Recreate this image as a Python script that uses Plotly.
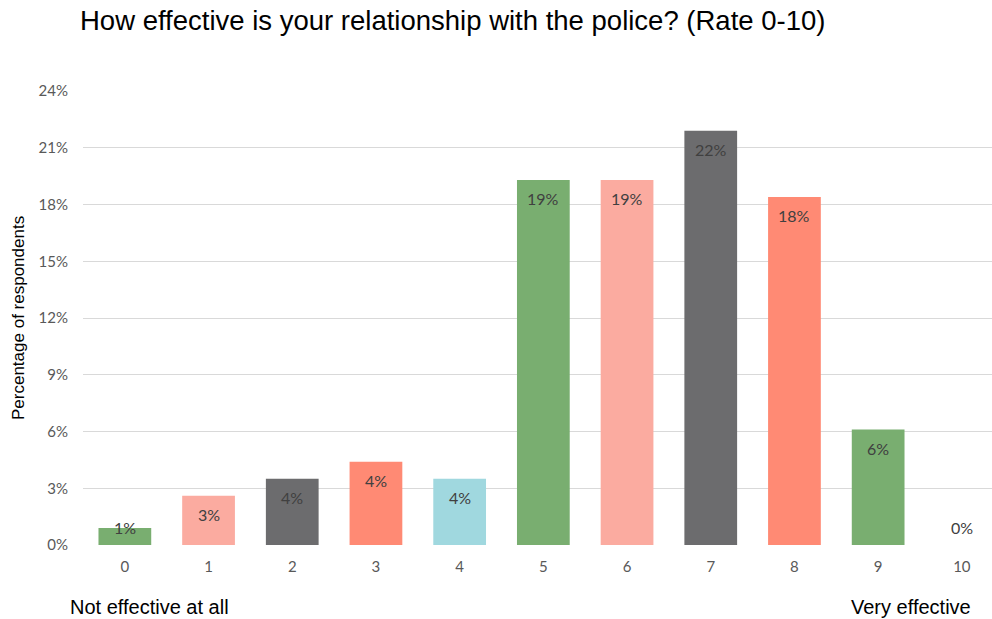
import plotly.graph_objects as go

categories = ["0", "1", "2", "3", "4", "5", "6", "7", "8", "9", "10"]
values = [0.9, 2.6, 3.5, 4.4, 3.5, 19.3, 19.3, 21.9, 18.4, 6.1, 0.0]
labels = ["1%", "3%", "4%", "4%", "4%", "19%", "19%", "22%", "18%", "6%", "0%"]
colors = ["#79ae70", "#fbaba0", "#6c6c6e", "#ff8a74", "#a0d8df",
          "#79ae70", "#fbaba0", "#6c6c6e", "#ff8a74", "#79ae70", "#fbaba0"]
y_ticks = [0, 3, 6, 9, 12, 15, 18, 21, 24]
y_tick_text = [f"{t}%" for t in y_ticks]

W, H = 992, 619
ML, MR, MT, MB = 83, 0, 91, 74
plot_h = H - MT - MB
px_per_unit = plot_h / 24.0

fig = go.Figure()
fig.add_trace(go.Bar(
    x=list(range(len(categories))), y=values,
    marker=dict(color=colors, line=dict(width=0)),
    width=0.63, hoverinfo="skip",
))

annotations = []
for i, (v, lab) in enumerate(zip(values, labels)):
    vpx = v * px_per_unit
    shift = -min(19, vpx - 18)
    annotations.append(dict(
        x=i, y=v, xref="x", yref="y", text=lab, showarrow=False,
        yshift=shift, font=dict(family="Lato", size=16, color="#404040"),
    ))

annotations += [
    dict(text="How effective is your relationship with the police? (Rate 0-10)",
         xref="paper", yref="paper", x=-0.006, y=1, yshift=71, xanchor="left", yanchor="middle",
         showarrow=False, font=dict(family="Liberation Sans", size=27.5, color="#000000")),
    dict(text="Not effective at all", xref="paper", yref="paper", x=-0.016, y=0, yshift=-62,
         xanchor="left", yanchor="middle", showarrow=False,
         font=dict(family="Liberation Sans", size=20, color="#000000")),
    dict(text="Very effective", xref="paper", yref="paper", x=0.979, y=0, yshift=-62,
         xanchor="right", yanchor="middle", showarrow=False,
         font=dict(family="Liberation Sans", size=20, color="#000000")),
    dict(text="Percentage of respondents", xref="paper", yref="paper", x=0, xshift=-65, y=0.5,
         textangle=-90, xanchor="center", yanchor="middle", showarrow=False,
         font=dict(family="Liberation Sans", size=17, color="#000000")),
]

span = (W - ML - MR) / 83.7
fig.update_layout(
    width=W, height=H,
    margin=dict(l=ML, r=MR, t=MT, b=MB, pad=0),
    paper_bgcolor="white", plot_bgcolor="white",
    showlegend=False,
    annotations=annotations,
    xaxis=dict(range=[-0.5, -0.5 + span], tickmode="array",
               tickvals=list(range(len(categories))), ticktext=categories,
               showgrid=False, zeroline=False, showline=False, ticks="",
               tickfont=dict(family="Lato", size=15, color="#595959"), ticklabelstandoff=11),
    yaxis=dict(range=[0, 24], tickmode="array", tickvals=y_ticks, ticktext=y_tick_text,
               showgrid=True, gridcolor="#d9d9d9", gridwidth=1, zeroline=False,
               showline=False, ticks="", ticklabelstandoff=14,
               tickfont=dict(family="Lato", size=15, color="#595959")),
)

fig.write_html("out.html")
